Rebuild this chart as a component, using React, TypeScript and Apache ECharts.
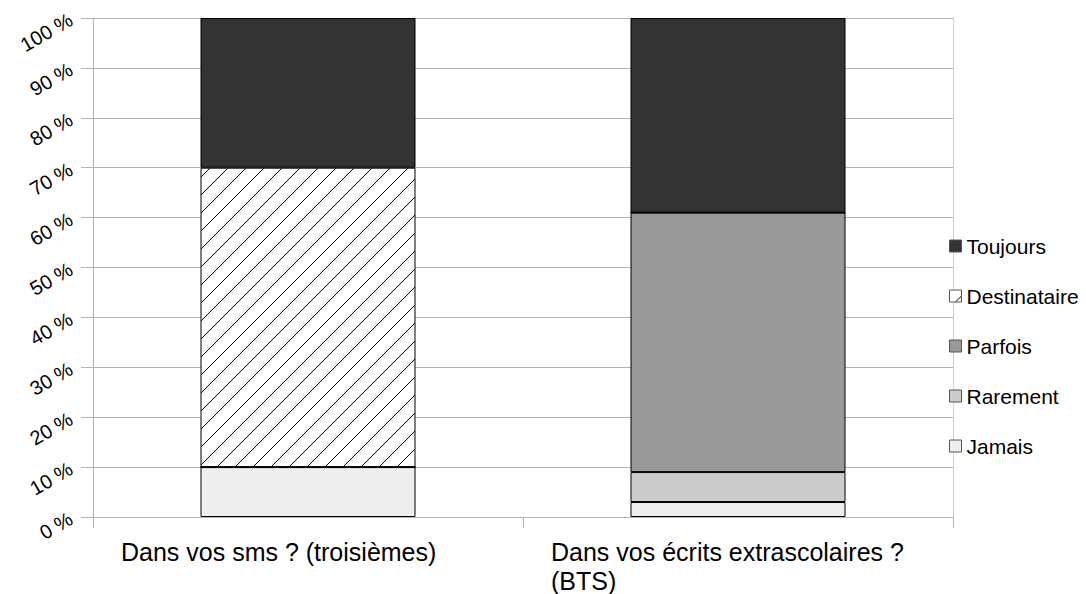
import React, { useEffect, useRef } from "react";
import * as echarts from "echarts";

const categories = ["Dans vos sms ? (troisièmes)", "Dans vos écrits extrascolaires ?\n(BTS)"];
const jamais = [10, 3];
const rarement = [0, 6];
const parfois = [0, 52];
const destinataire = [60, 0];
const toujours = [30, 39];
const legendOrder = ["Toujours", "Destinataire", "Parfois", "Rarement", "Jamais"];

const FONT = "'Liberation Sans', Arial, sans-serif";

function makeHatch() {
  const size = 18;
  const c = document.createElement("canvas");
  c.width = size;
  c.height = size;
  const ctx = c.getContext("2d")!;
  ctx.fillStyle = "#ffffff";
  ctx.fillRect(0, 0, size, size);
  ctx.strokeStyle = "#000000";
  ctx.lineWidth = 1;
  for (const off of [-size, 0, size]) {
    ctx.beginPath();
    ctx.moveTo(off, size);
    ctx.lineTo(off + size, 0);
    ctx.stroke();
  }
  return { image: c, repeat: "repeat", imageWidth: size, imageHeight: size } as any;
}

export default function App() {
  const ref = useRef<HTMLDivElement>(null);
  useEffect(() => {
    if (!ref.current) return;
    const chart = echarts.init(ref.current, null, { renderer: "svg" });
    const hatch = makeHatch();
    const mk = (name: string, data: number[], color: any) => ({
      name,
      type: "bar",
      stack: "total",
      barWidth: "50%",
      data,
      itemStyle: { color, borderColor: "#000", borderWidth: 1 },
    });
    chart.setOption({
      animation: false,
      backgroundColor: "#ffffff",
      grid: { left: 93, right: 133, top: 18, bottom: 77, containLabel: false, outerBoundsMode: "none" },
      legend: {
        orient: "vertical",
        left: 949,
        top: 235,
        padding: 0,
        itemWidth: 12,
        itemHeight: 12,
        itemGap: 28,
        icon: "rect",
        data: legendOrder,
        itemStyle: { borderColor: "#555", borderWidth: 1 },
        textStyle: { fontFamily: FONT, fontSize: 21, color: "#000", lineHeight: 22 },
      },
      xAxis: {
        type: "category",
        data: categories,
        axisLine: { show: true, lineStyle: { color: "#b3b3b3", width: 1 } },
        axisTick: { show: true, length: 11, lineStyle: { color: "#b3b3b3" } },
        axisLabel: {
          interval: 0,
          margin: 20,
          width: 374,
          overflow: "none",
          align: "center",
          color: "#000",
          fontFamily: FONT,
          fontSize: 25,
          lineHeight: 29,
          formatter: (v: string) =>
            v
              .split("\n")
              .map((l) => "{a|" + l + "}")
              .join("\n"),
          rich: {
            a: { align: "left", fontFamily: FONT, fontSize: 25, lineHeight: 29, color: "#000" },
          },
        },
      },
      yAxis: [
        {
          type: "value",
          min: 0,
          max: 100,
          interval: 10,
          axisLine: { show: true, lineStyle: { color: "#b3b3b3" } },
          axisTick: { show: true, length: 12, lineStyle: { color: "#b3b3b3" } },
          splitLine: { show: true, lineStyle: { color: "#b3b3b3" } },
          axisLabel: {
            formatter: "{value} %",
            rotate: 30,
            margin: 22,
            padding: [14, 0, 0, 0],
            color: "#000",
            fontFamily: FONT,
            fontSize: 20,
          },
        },
        {
          type: "value",
          position: "right",
          min: 0,
          max: 100,
          interval: 10,
          axisLine: { show: true, lineStyle: { color: "#d0d0d0" } },
          axisTick: { show: false },
          axisLabel: { show: false },
          splitLine: { show: false },
        },
      ],
      series: [
        mk("Jamais", jamais, "#eeeeee"),
        mk("Rarement", rarement, "#cccccc"),
        mk("Parfois", parfois, "#999999"),
        mk("Destinataire", destinataire, hatch),
        mk("Toujours", toujours, "#333333"),
      ],
    });
    return () => chart.dispose();
  }, []);
  return (
    <div
      ref={ref}
      style={{ position: "fixed", left: 0, top: 0, width: 1086, height: 594 }}
    />
  );
}
